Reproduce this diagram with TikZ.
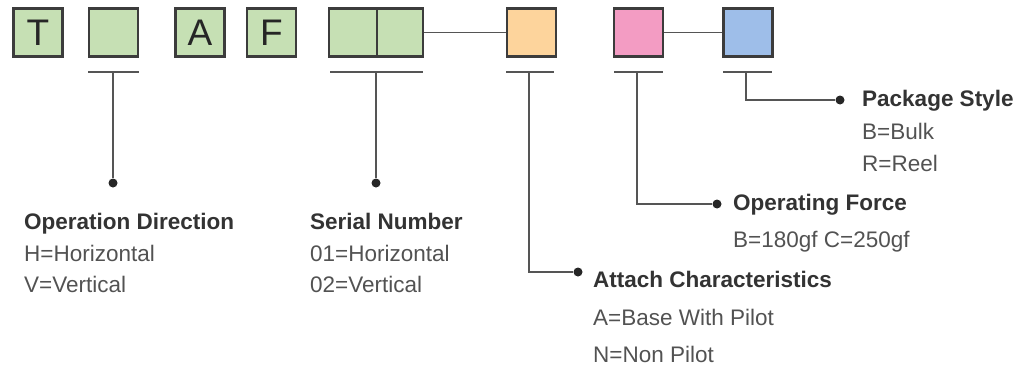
\documentclass[tikz,border=0pt]{standalone}
\usepackage{fontspec}
\setmainfont{Liberation Sans}
\definecolor{gfill}{HTML}{C6E0B4}
\definecolor{ofill}{HTML}{FDD49C}
\definecolor{pfill}{HTML}{F39CC3}
\definecolor{bfill}{HTML}{9EBEE9}
\definecolor{bordc}{HTML}{3C3C3C}
\definecolor{linec}{HTML}{555555}
\definecolor{txtc}{HTML}{333333}
\begin{document}
\begin{tikzpicture}[x=1pt,y=-1pt,
  cbox/.style={draw=bordc,line width=2.2pt,minimum width=49pt,minimum height=48pt,inner sep=0pt,font=\fontsize{37}{37}\selectfont,text=black!85},
  conn/.style={draw=linec,line width=2.4pt},
  ubar/.style={draw=linec,line width=2.4pt},
  dotc/.style={circle,fill=black!85,inner sep=0pt,minimum size=9pt},
  ttl/.style={anchor=base west,inner sep=0pt,font=\fontsize{22.5}{22.5}\selectfont\bfseries,text=txtc},
  itm/.style={anchor=base west,inner sep=0pt,font=\fontsize{22.5}{22.5}\selectfont,text=txtc!85}]
\useasboundingbox (0,0) rectangle (1034,372);
% boxes
\node[cbox,fill=gfill] (b1) at (38,32.5) {T};
\node[cbox,fill=gfill] (b2) at (113.5,32.5) {};
\node[cbox,fill=gfill] (b3) at (200,32.5) {A};
\node[cbox,fill=gfill] (b4) at (271.5,32.5) {F};
\node[cbox,fill=gfill,minimum width=48pt] (b5a) at (353,32.5) {};
\node[cbox,fill=gfill,minimum width=46pt] (b5b) at (400,32.5) {};
\node[cbox,fill=ofill] (b6) at (531.5,32.5) {};
\node[cbox,fill=pfill] (b7) at (638.5,32.5) {};
\node[cbox,fill=bfill] (b8) at (748,32.5) {};
\draw[conn,line width=1.8pt] (b5b.east) -- (b6.west);
\draw[conn,line width=1.8pt] (b7.east) -- (b8.west);
% underbars
\coordinate (u2l) at (88,72); \coordinate (u2r) at (139,72);
\coordinate (u5l) at (330,72); \coordinate (u5r) at (423,72);
\coordinate (u6l) at (506,72); \coordinate (u6r) at (554,72);
\coordinate (u7l) at (614,72); \coordinate (u7r) at (663,72);
\coordinate (u8l) at (723,72); \coordinate (u8r) at (772,72);
\draw[ubar] (u2l) -- (u2r); \draw[ubar] (u5l) -- (u5r);
\draw[ubar] (u6l) -- (u6r); \draw[ubar] (u7l) -- (u7r);
\draw[ubar] (u8l) -- (u8r);
% dots
\node[dotc] (d2) at (113,183) {};
\node[dotc] (d5) at (376,183) {};
\node[dotc] (d6) at (578,272) {};
\node[dotc] (d7) at (717,204) {};
\node[dotc] (d8) at (840,100) {};
\coordinate (t2) at (113,72); \coordinate (t5) at (376,72);
\coordinate (t6) at (529,72); \coordinate (t7) at (637,72); \coordinate (t8) at (746,72);
\draw[conn] (t2) -- (d2);
\draw[conn] (t5) -- (d5);
\draw[conn] (t6) |- (d6);
\draw[conn] (t7) |- (d7);
\draw[conn] (t8) |- (d8);
% texts
\node[ttl] (l2a) at (24,229) {Operation Direction};
\node[itm] (l2b) at (24,261) {H=Horizontal};
\node[itm] (l2c) at (24,292) {V=Vertical};
\node[ttl] (l5a) at (310,229) {Serial Number};
\node[itm] (l5b) at (310,261) {01=Horizontal};
\node[itm] (l5c) at (310,292) {02=Vertical};
\node[ttl] (l6a) at (593,287) {Attach Characteristics};
\node[itm] (l6b) at (593,325) {A=Base With Pilot};
\node[itm] (l6c) at (593,362) {N=Non Pilot};
\node[ttl] (l7a) at (733,210) {Operating Force};
\node[itm] (l7b) at (733,247) {B=180gf C=250gf};
\node[ttl] (l8a) at (862,106) {Package Style};
\node[itm] (l8b) at (862,139) {B=Bulk};
\node[itm] (l8c) at (862,171) {R=Reel};
\end{tikzpicture}
\end{document}
